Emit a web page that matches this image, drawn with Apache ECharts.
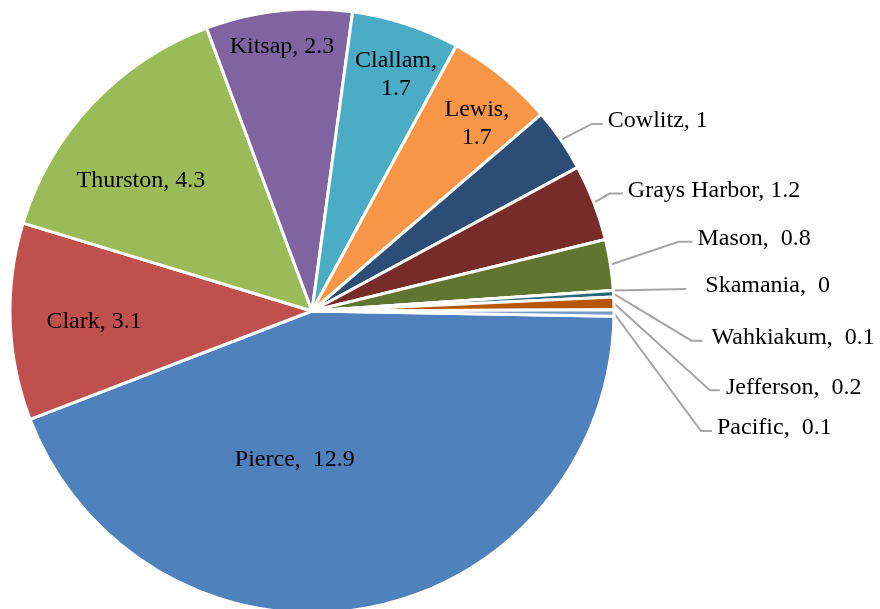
<!DOCTYPE html>
<html>
<head>
<meta charset="utf-8">
<script src="https://cdn.jsdelivr.net/npm/echarts@6/dist/echarts.min.js"></script>
<style>
html,body{margin:0;padding:0;background:#fff;}
#chart{width:880px;height:609px;}
</style>
</head>
<body>
<div id="chart"></div>
<script>
// ---- data ----
const categories = ['Pierce','Clark','Thurston','Kitsap','Clallam','Lewis','Cowlitz','Grays Harbor','Mason','Skamania','Wahkiakum','Jefferson','Pacific'];
const values = [12.9, 3.1, 4.3, 2.3, 1.7, 1.7, 1, 1.2, 0.8, 0, 0.1, 0.2, 0.1];

// ---- styles / layout ----
const colors = ['#4F81BD','#C0504D','#9BBB59','#8064A2','#4BACC6','#F79646','#2C4D75','#772C2A','#5F7530','#4D3B62','#276A7C','#B65708','#729ACA'];
const wideGap = [true,false,false,false,false,false,false,false,true,true,true,true,true];
const wrapLabel = [false,false,false,false,true,true,false,false,false,false,false,false,false];
// inside label nudges [dx, dy] (null = outside label)
const insideNudge = [[-44,-3],[-64,5],[-59,-25],[-13,-111],[36,-90],[68,-68],null,null,null,null,null,null,null];
// outside leader: [elbowDx, elbowDy, horizontalLen, textGap]
const leader = [null,null,null,null,null,null,[31,-16,11,5],[16,-9,13,5],[68,-23,14,5],[73,-1.5,0,19],[78,47,11,9],[96,87,10,6],[87,118,11,5]];

const chart = echarts.init(document.getElementById('chart'), null, {renderer:'canvas'});
const data = categories.map((n, i) => ({
  name: n,
  value: values[i],
  itemStyle: {color: colors[i]},
  label: {position: insideNudge[i] ? 'inside' : 'outside'},
  labelLine: {show: !insideNudge[i]}
}));

chart.setOption({
  animation: false,
  series: [{
    type: 'pie',
    center: [312, 311],
    radius: 302,
    startAngle: -1,
    clockwise: true,
    avoidLabelOverlap: false,
    minShowLabelAngle: 0,
    emphasis: {disabled: true},
    itemStyle: {borderColor: '#ffffff', borderWidth: 3},
    label: {
      color: '#000',
      fontFamily: '"Liberation Serif", serif',
      fontSize: 24,
      lineHeight: 28,
      formatter: p => {
        const i = p.dataIndex;
        return p.name + ',' + (wrapLabel[i] ? '\n' : (wideGap[i] ? '  ' : ' ')) + values[i];
      }
    },
    labelLine: {lineStyle: {color: '#A6A6A6', width: 2}, length: 10, length2: 10},
    labelLayout: function (params) {
      const i = params.dataIndex;
      if (insideNudge[i]) {
        return {dx: insideNudge[i][0], dy: insideNudge[i][1]};
      }
      const L = leader[i];
      const p0 = params.labelLinePoints[0];
      const e = [p0[0] + L[0], p0[1] + L[1]];
      const end = [e[0] + L[2], e[1]];
      return {
        x: end[0] + L[3],
        y: end[1] - 3,
        align: 'left',
        verticalAlign: 'middle',
        labelLinePoints: [p0, e, end]
      };
    },
    data: data
  }]
});
</script>
</body>
</html>
